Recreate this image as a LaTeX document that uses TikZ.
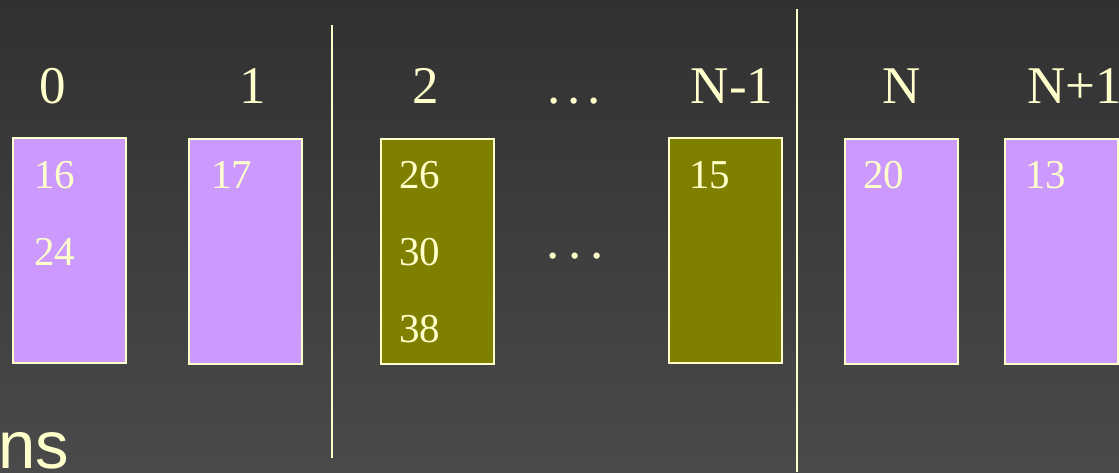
\documentclass[tikz,border=0pt]{standalone}
\usepackage{fontspec}
\setmainfont{Liberation Serif}
\newfontfamily\sansf{Liberation Sans}
\definecolor{txt}{HTML}{FFFFCC}
\definecolor{lilac}{HTML}{CC99FF}
\definecolor{olive}{HTML}{808000}
\definecolor{bgtop}{HTML}{313131}
\definecolor{bgbot}{HTML}{4A4A4A}
\tikzset{
  px/.style={x=1pt,y=-1pt},
  slot/.style={draw=txt,line width=1.5pt,minimum width=113pt,minimum height=225pt,anchor=north west,inner sep=0pt},
  lilacslot/.style={slot,fill=lilac},
  oliveslot/.style={slot,fill=olive},
  idx/.style={text=txt,inner sep=0pt,anchor=base,font=\fontsize{53}{60}\selectfont},
  val/.style={text=txt,inner sep=0pt,anchor=base west,font=\fontsize{41}{48}\selectfont},
  divider/.style={draw=txt,line width=2pt},
}
\newcommand{\spdots}[1]{.\kern#1.\kern#1.}
\begin{document}
\begin{tikzpicture}[px]
\useasboundingbox (0,0) rectangle (1119,472);
\shade[top color=bgtop,bottom color=bgbot] (0,0) rectangle (1119,472);
\clip (0,0) rectangle (1119,472);
% dividers
\coordinate (d1t) at (332,25);
\coordinate (d1b) at (332,458);
\coordinate (d2t) at (797,9);
\coordinate (d2b) at (797,472);
\draw[divider] (d1t) -- (d1b);
\draw[divider] (d2t) -- (d2b);
% slots
\node[lilacslot] (s0) at (12,137) {};
\node[lilacslot] (s1) at (188,138) {};
\node[oliveslot] (s2) at (380,138) {};
\node[oliveslot] (sn1) at (668,137) {};
\node[lilacslot] (sn) at (844,138) {};
\node[lilacslot] (snp1) at (1004,138) {};
% indices
\node[idx] (i0) at (53,103) {0};
\node[idx] (i1) at (253,103) {1};
\node[idx] (i2) at (426,103) {2};
\node[idx] (idots) at (574,103) {\spdots{0.13em}};
\node[idx] (in1) at (732,103) {N-1};
\node[idx] (in) at (902,103) {N};
\node[idx,anchor=base west] (inp1) at (1027,103) {N+1};
% values
\node[val] (v16) at (34,188) {16};
\node[val] (v24) at (34,265) {24};
\node[val] (v17) at (211,188) {17};
\node[val] (v26) at (399,188) {26};
\node[val] (v30) at (399,265) {30};
\node[val] (v38) at (399,342) {38};
\node[val] (v15) at (689,188) {15};
\node[val] (v20) at (863,188) {20};
\node[val] (v13) at (1025,188) {13};
\node[idx] (mdots) at (575,258) {\spdots{0.16em}};
% bottom text
\node[text=txt,inner sep=0pt,anchor=base west,font=\sansf\fontsize{67}{70}\selectfont] (ns) at (-2,468) {ns};
\end{tikzpicture}
\end{document}
